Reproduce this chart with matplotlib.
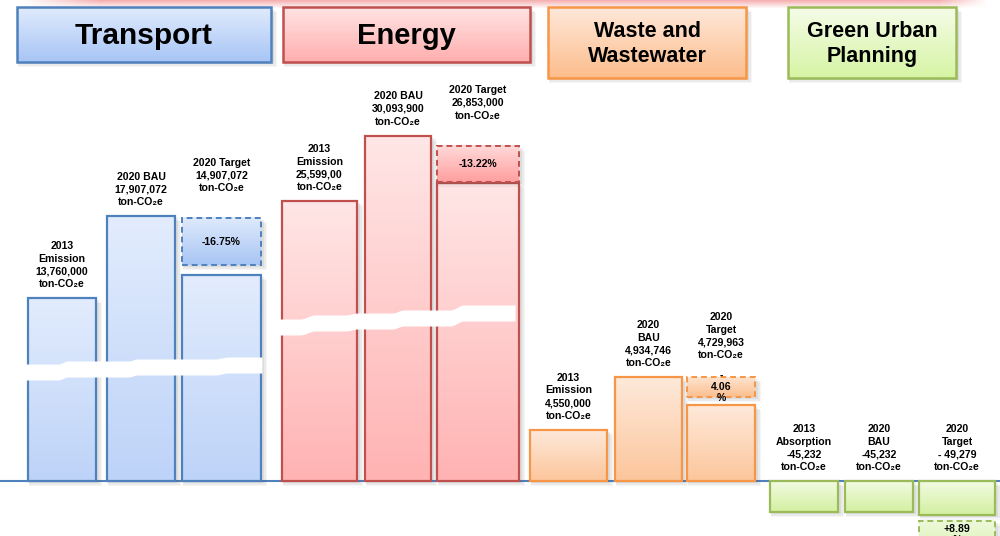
import numpy as np
import matplotlib
matplotlib.use("Agg")
import matplotlib.pyplot as plt
from matplotlib.patches import Rectangle
from matplotlib.colors import to_rgb

plt.rcParams["font.family"] = ["Liberation Sans", "DejaVu Sans"]
plt.rcParams["font.weight"] = "bold"

# ---- data -------------------------------------------------------------
sectors = ["Transport", "Energy", "Waste and\nWastewater", "Green Urban\nPlanning"]
bar_titles = [
    ["2013\nEmission", "2020 BAU", "2020 Target"],
    ["2013\nEmission", "2020 BAU", "2020 Target"],
    ["2013\nEmission", "2020\nBAU", "2020\nTarget"],
    ["2013\nAbsorption", "2020\nBAU", "2020\nTarget"],
]
transport_values = [13_760_000, 17_907_072, 14_907_072]
energy_values = [25_599_000, 30_093_900, 26_853_000]
waste_values = [4_550_000, 4_934_746, 4_729_963]
green_values = [-45_232, -45_232, -49_279]
value_texts = [
    ["13,760,000", "17,907,072", "14,907,072"],
    ["25,599,00", "30,093,900", "26,853,000"],
    ["4,550,000", "4,934,746", "4,729,963"],
    ["-45,232", "-45,232", "- 49,279"],
]
change_labels = ["-16.75%", "-13.22%", "-\n4.06\n%", "+8.89\n%"]
unit = "ton-CO\u2082e"

all_values = [transport_values, energy_values, waste_values, green_values]

# ---- layout (pixel space, baseline at BASE) ----------------------------
W, H, BASE = 1000, 536, 481


def yp(p):
    return BASE - p


# each sector is drawn on its own broken axis: (cut value, px per unit)
scales = [(4.525e6, 19.8e-6), (6.318e6, 14.53e-6), (4.173e6, 136.3e-6), (0.0, 31 / 45232)]

header_boxes = [(17, 271, 7, 62, 21.5), (283, 530, 7, 62, 21.0),
                (548, 746, 7, 78, 15.5), (788, 956, 7, 78, 15.5)]
bar_slots = [
    [(28, 96), (107, 175), (182, 261)],
    [(282, 357), (365, 431), (437, 519)],
    [(530, 607), (615, 682), (687, 755)],
    [(770, 838), (845, 913), (919, 995)],
]
# dashed change box: inset below BAU top, gap above target top
box_fit = [(2, 10), (10, 1), (0, 8), (6, 28)]
target_lift = [16, 16, 8, 0]

styles = [
    dict(edge="#4f81bd", top="#e2ecfd", bot="#bdd3f8", btop="#dfeafc", bbot="#a8c5f4",
         htop="#e0ebfd", hbot="#a7c5f5"),
    dict(edge="#c0504d", top="#ffe6e6", bot="#ffb3b3", btop="#ffdada", bbot="#ff9f9f",
         htop="#ffe4e4", hbot="#ffaeae"),
    dict(edge="#f79646", top="#fee9da", bot="#fcc69c", btop="#fee3cf", bbot="#fbbf8e",
         htop="#ffe8da", hbot="#fcbd8c"),
    dict(edge="#9bbb59", top="#f2fbe2", bot="#d3f0a1", btop="#eef9dc", bbot="#dcf4b5",
         htop="#f5fce8", hbot="#d6f4a4"),
]


def gradient_rect(ax, x0, x1, y0, y1, c_top, c_bot, edge, lw=1.6, ls="-", z=2):
    lo, hi = min(y0, y1), max(y0, y1)
    t = np.linspace(0, 1, 64)[:, None, None]
    top, bot = np.array(to_rgb(c_top)), np.array(to_rgb(c_bot))
    img = top + (bot - top) * t
    ax.imshow(img, extent=(x0, x1, lo, hi), origin="upper", aspect="auto",
              zorder=z, interpolation="bilinear")
    ax.add_patch(Rectangle((x0, lo), x1 - x0, hi - lo, fill=False, ec=edge,
                           lw=lw, ls=ls, zorder=z + 0.1))


def shadow(ax, x0, x1, lo, hi, z):
    for d, a in [(5, 0.05), (3.5, 0.07), (2, 0.09)]:
        ax.add_patch(Rectangle((x0 + 1, lo - d), x1 - x0 + d, hi - lo,
                               color="0.35", alpha=a, lw=0, zorder=z - 0.5))


def squiggle(ax, nx, npy, thick=16):
    xs = np.linspace(nx[0], nx[-1], 500)
    ys = np.empty_like(xs)
    for i in range(len(nx) - 1):
        m = (xs >= nx[i]) & (xs <= nx[i + 1])
        t = (xs[m] - nx[i]) / (nx[i + 1] - nx[i])
        ys[m] = npy[i] + (npy[i + 1] - npy[i]) * (1 - np.cos(np.pi * t)) / 2
    yc = yp(ys)
    ax.fill_between(xs, yc - thick / 2, yc + thick / 2, color="white", lw=0, zorder=6)


fig = plt.figure(figsize=(10, 5.36), dpi=100)
ax = fig.add_axes([0, 0, 1, 1])

# pink glow along the top edge
glow = np.zeros((10, 200, 4))
glow[..., :3] = to_rgb("#ee7070")
fade_x = np.clip(np.minimum(np.linspace(0, 1, 200) / 0.08, (1 - np.linspace(0, 1, 200)) / 0.05), 0, 1)
glow[..., 3] = np.linspace(0.55, 0, 10)[:, None] * fade_x[None, :]
ax.imshow(glow, extent=(20, 990, yp(9), yp(0)), origin="upper", aspect="auto", zorder=1)

# section headers
for (x0, x1, t0, t1, fs), name, st in zip(header_boxes, sectors, styles):
    shadow(ax, x0, x1, yp(t1), yp(t0), 3)
    gradient_rect(ax, x0, x1, yp(t0), yp(t1), st["htop"], st["hbot"], st["edge"], lw=1.8, z=3)
    ax.text((x0 + x1) / 2, yp((t0 + t1) / 2 + 1.5), name, ha="center", va="center",
            fontsize=fs, fontweight="bold", linespacing=1.2, zorder=5)

# baseline
ax.axhline(0, color="#4f81bd", lw=1.5, zorder=1.5)

# bars
for s, (vals, slots, st, (cut, k)) in enumerate(zip(all_values, bar_slots, styles, scales)):
    heights = [k * (v - cut) for v in vals]
    for j, ((x0, x1), h) in enumerate(zip(slots, heights)):
        shadow(ax, x0, x1, min(0, h), max(0, h), 2)
        if h >= 0:
            gradient_rect(ax, x0, x1, h, 0, st["top"], st["bot"], st["edge"], z=2)
        else:
            gradient_rect(ax, x0, x1, 0, h, st["top"], st["bot"], st["edge"], z=2)

    # dashed box showing the change from BAU to target
    inset, gap = box_fit[s]
    tx0, tx1 = slots[2]
    if heights[2] >= 0:
        b_hi, b_lo = heights[1] - inset, heights[2] + gap
    else:
        b_hi = heights[2] - inset
        b_lo = b_hi - gap
    shadow(ax, tx0, tx1, b_lo, b_hi, 4)
    gradient_rect(ax, tx0, tx1, b_hi, b_lo, st["btop"], st["bbot"], st["edge"],
                  lw=1.4, ls=(0, (3, 2)), z=4)
    ax.text((tx0 + tx1) / 2, (b_hi + b_lo) / 2, change_labels[s], ha="center",
            va="center", fontsize=7.6, fontweight="bold", linespacing=1.15, zorder=5)

    # value labels
    for j, (x0, x1) in enumerate(slots):
        anchor = max(heights[j], 0)
        if j == 2 and heights[2] >= 0:
            anchor = b_hi + target_lift[s]
        label = f"{bar_titles[s][j]}\n{value_texts[s][j]}\n{unit}"
        ax.annotate(label, xy=((x0 + x1) / 2, anchor), xytext=(0, 6.5),
                    textcoords="offset points", ha="center", va="bottom",
                    fontsize=7.6, fontweight="bold", linespacing=1.32, zorder=7)

# axis-break marks across the tall sectors
squiggle(ax, [22, 58, 68, 128, 138, 215, 228, 262],
         [372, 372, 369, 369, 367, 367, 365, 365])
squiggle(ax, [272, 300, 315, 345, 358, 392, 404, 450, 464, 515],
         [327, 327, 323, 323, 321, 321, 318, 318, 313, 313])

ax.set_xlim(0, W)
ax.set_ylim(BASE - H, BASE)
ax.axis("off")
fig.savefig("out.png", dpi=100)
